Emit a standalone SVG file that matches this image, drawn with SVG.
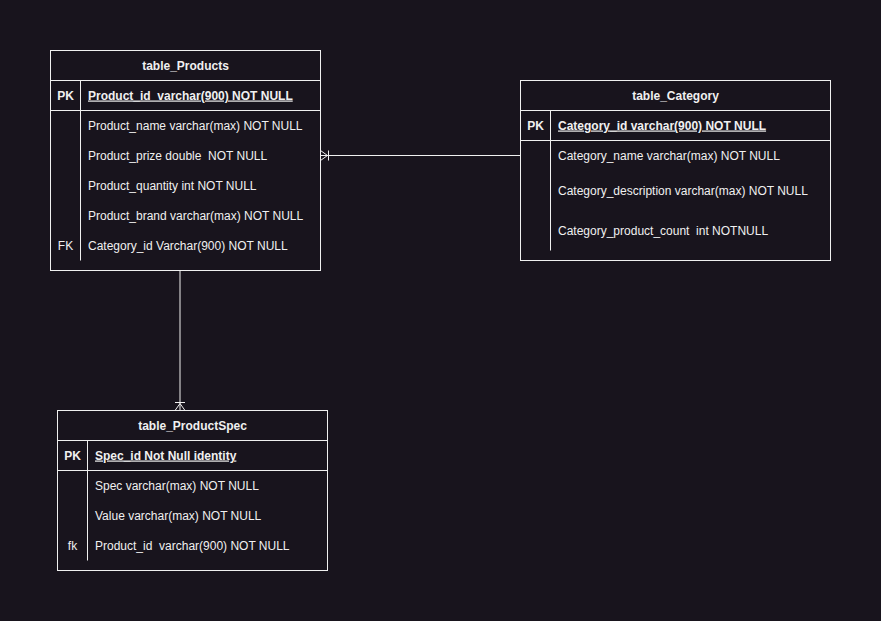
<svg xmlns="http://www.w3.org/2000/svg" width="881" height="621" viewBox="0 0 881 621">
  <style>
    .box { fill: #18141d; stroke: #f0f0f0; stroke-width: 1; }
    .ln { stroke: #f0f0f0; stroke-width: 1; fill: none; }
    text { font-family: "Liberation Sans", Arial, Helvetica, sans-serif; font-size: 12px; fill: #f0f0f0; white-space: pre; }
    .title { font-weight: bold; text-anchor: middle; }
    .key { font-weight: bold; text-anchor: middle; }
    .pk { font-weight: bold; text-decoration: underline; }
    .conn { stroke: #f0f0f0; stroke-width: 1; fill: none; }
  </style>
  <rect width="881" height="621" fill="#18141d"/>

  <!-- relationships -->
  <g id="connectors">
    <!-- Products (many) to Category -->
    <path class="conn" d="M 520.5 155.5 L 320.5 155.5"/>
    <path class="conn" d="M 320.5 150.5 L 327.5 155.5 L 320.5 160.5 M 328.5 150.5 L 328.5 160.5"/>
    <!-- Products to ProductSpec (many) -->
    <path class="conn" d="M 180 270.5 L 180 410.5"/>
    <path class="conn" d="M 175 410.5 L 180 403.5 L 185 410.5 M 175 402.5 L 185 402.5"/>
  </g>

  <g id="table_Products">
    <rect class="box" x="50.5" y="50.5" width="270" height="220"/>
    <path class="ln" d="M 50.5 80.5 H 320.5 M 50.5 110.5 H 320.5 M 80.5 80.5 V 260.5"/>
    <text class="title" x="185.5" y="69.5">table_Products</text>
    <text class="key" x="65.5" y="99.5">PK</text>
    <text class="pk" x="88" y="99.5" xml:space="preserve">Product_id  varchar(900) NOT NULL</text>
    <text x="88" y="129.5">Product_name varchar(max) NOT NULL</text>
    <text x="88" y="159.5" xml:space="preserve">Product_prize double  NOT NULL</text>
    <text x="88" y="189.5">Product_quantity int NOT NULL</text>
    <text x="88" y="219.5">Product_brand varchar(max) NOT NULL</text>
    <text x="65.5" y="249.5" text-anchor="middle">FK</text>
    <text x="88" y="249.5">Category_id Varchar(900) NOT NULL</text>
  </g>

  <g id="table_Category">
    <rect class="box" x="520.5" y="80.5" width="310" height="180"/>
    <path class="ln" d="M 520.5 110.5 H 830.5 M 520.5 140.5 H 830.5 M 550.5 110.5 V 250.5"/>
    <text class="title" x="675.5" y="99.5">table_Category</text>
    <text class="key" x="535.5" y="129.5">PK</text>
    <text class="pk" x="558" y="129.5">Category_id varchar(900) NOT NULL</text>
    <text x="558" y="159.5">Category_name varchar(max) NOT NULL</text>
    <text x="558" y="194.5">Category_description varchar(max) NOT NULL</text>
    <text x="558" y="234.5" xml:space="preserve">Category_product_count  int NOTNULL</text>
  </g>

  <g id="table_ProductSpec">
    <rect class="box" x="57.5" y="410.5" width="270" height="160"/>
    <path class="ln" d="M 57.5 440.5 H 327.5 M 57.5 470.5 H 327.5 M 87.5 440.5 V 560.5"/>
    <text class="title" x="192.5" y="429.5">table_ProductSpec</text>
    <text class="key" x="72.5" y="459.5">PK</text>
    <text class="pk" x="95" y="459.5">Spec_id Not Null identity</text>
    <text x="95" y="489.5">Spec varchar(max) NOT NULL</text>
    <text x="95" y="519.5">Value varchar(max) NOT NULL</text>
    <text x="72.5" y="549.5" text-anchor="middle">fk</text>
    <text x="95" y="549.5" xml:space="preserve">Product_id  varchar(900) NOT NULL</text>
  </g>
</svg>
